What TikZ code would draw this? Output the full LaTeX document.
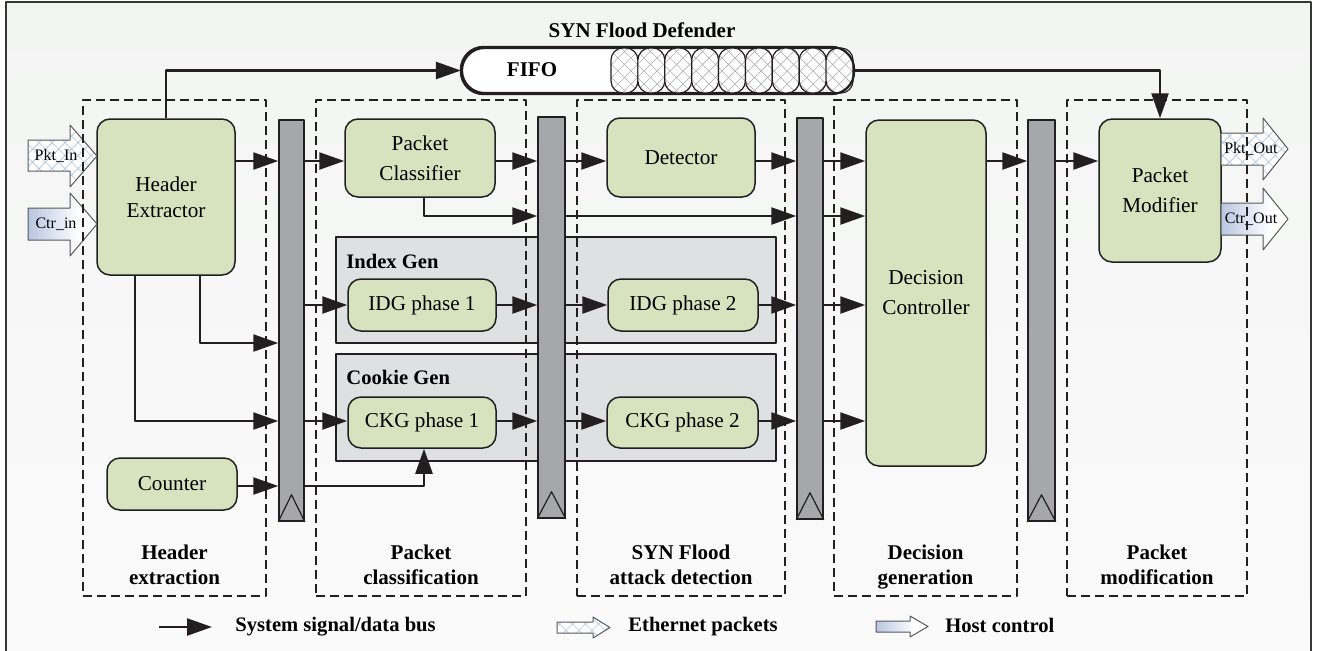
\documentclass[tikz,border=0pt]{standalone}
\usepackage{fontspec}
\setmainfont{Liberation Serif}
\usetikzlibrary{arrows.meta,patterns.meta,calc}

\definecolor{blockgreen}{RGB}{215,226,190}
\definecolor{busgray}{RGB}{166,167,171}
\definecolor{genfill}{RGB}{223,224,226}
\definecolor{inkdark}{RGB}{35,31,32}
\definecolor{pagetop}{RGB}{243,245,243}
\definecolor{pagebot}{RGB}{250,250,250}
\definecolor{framegray}{RGB}{55,55,55}
\definecolor{ctrblue}{RGB}{138,160,206}
\definecolor{hatchblue}{RGB}{170,195,228}
\definecolor{hatchgray}{RGB}{178,178,178}

\pgfdeclarehorizontalshading{hostshade}{100bp}{color(0bp)=(ctrblue); color(62bp)=(white); color(100bp)=(white)}

\begin{document}
\begin{tikzpicture}[x=0.5pt,y=-0.5pt,line join=round,
  block/.style={draw=inkdark, fill=blockgreen, rounded corners=6.5pt, line width=0.75pt,
                align=center, inner sep=0pt, font=\fontsize{10.6}{15}\selectfont},
  genbox/.style={draw=inkdark, fill=genfill, line width=1pt, inner sep=0pt, minimum width=220pt},
  genlabel/.style={font=\bfseries\fontsize{10.3}{12}\selectfont, inner sep=0pt, anchor=west},
  bus/.style={draw=inkdark, fill=busgray, line width=0.75pt, inner sep=0pt, minimum height=200.5pt},
  stagebox/.style={draw=inkdark, line width=1pt, dash pattern=on 4.5pt off 2.5pt,
                   inner sep=0pt, minimum height=248pt},
  stagelabel/.style={align=center, inner sep=0pt, font=\bfseries\fontsize{10.5}{12.5}\selectfont},
  arr/.style={draw=inkdark, line width=1.2pt, -{Triangle[length=12.5pt,width=8.5pt]}},
  fatarrow/.style={draw=black!65, line width=0.5pt},
  hatched/.style={preaction={fill=white}, pattern={Hatch[angle=45,distance=4.6pt,line width=0.3pt]}},
  hostctl/.style={shading=hostshade},
  iolabel/.style={inner sep=0pt, font=\fontsize{8}{9}\selectfont},
  legendtext/.style={anchor=west, inner sep=0pt, font=\bfseries\fontsize{10.3}{12}\selectfont}]

\useasboundingbox (0,0) rectangle (1318,650);

% page and frame
\shade[top color=pagetop, bottom color=pagebot] (6,2) rectangle (1311,662);
\draw[framegray, line width=1.4pt] (6,2) rectangle (1311,662);

% generator groups
\node[genbox, minimum height=53pt] (IXG) at (556,290) {};
\node[genbox, minimum height=53.5pt] (CKG) at (556,407.5) {};
\node[genlabel] (IXGt) at (346,261) {Index Gen};
\node[genlabel] (CKGt) at (346,377) {Cookie Gen};

% pipeline registers
\node[bus, minimum width=12.5pt] (bus1) at (291.5,320.5) {};
\node[bus, minimum width=13.5pt] (bus2) at (551.5,317.5) {};
\node[bus, minimum width=13pt]   (bus3) at (810,318.5) {};
\node[bus, minimum width=13.5pt] (bus4) at (1041.5,320.5) {};
\foreach \b in {bus1,bus2,bus3,bus4}
  \draw[inkdark, line width=0.6pt] (\b.south west) -- ($(\b.south)+(0,-27)$) -- (\b.south east);

% functional blocks
\node[block, minimum width=69pt, minimum height=78pt, font=\fontsize{10.6}{13}\selectfont] (HE) at (166,197) {Header\\Extractor};
\node[block, minimum width=75pt, minimum height=39pt] (PC) at (420,158) {Packet\\Classifier};
\node[block, minimum width=74pt, minimum height=39.5pt] (DET) at (681,157.5) {Detector};
\node[block, minimum width=60pt, minimum height=173pt] (DC) at (926,293) {Decision\\Controller};
\node[block, minimum width=61pt, minimum height=71.5pt] (PM) at (1160,190.5) {Packet\\Modifier};
\node[block, minimum width=74pt, minimum height=26pt] (IDG1) at (422,305) {IDG phase 1};
\node[block, minimum width=75pt, minimum height=26pt] (IDG2) at (683,305) {IDG phase 2};
\node[block, minimum width=74pt, minimum height=25.5pt] (CKG1) at (422,422.5) {CKG phase 1};
\node[block, minimum width=75.5pt, minimum height=25.5pt] (CKG2) at (682.5,422.5) {CKG phase 2};
\node[block, minimum width=65pt, minimum height=26pt] (CNT) at (172,484) {Counter};

% FIFO
\node[draw=inkdark, fill=white, line width=1.1pt, rounded corners=11.25pt, inner sep=0pt,
      minimum width=195.5pt, minimum height=22.5pt] (FIFO) at (657.5,70.5) {};
\foreach \i in {0,...,8}
  \path[hatched, pattern color=hatchgray, draw=inkdark, line width=0.6pt, rounded corners=6pt]
    ({611+26.89*\i},48) rectangle ({611+26.89*(\i+1)},93);
\draw[inkdark, line width=1.1pt, rounded corners=11.25pt] (FIFO.south west) rectangle (FIFO.north east);
\node[font=\bfseries\fontsize{10.5}{12}\selectfont, inner sep=0pt] (FIFOt) at (532,70) {FIFO};
\node[font=\bfseries\fontsize{10.5}{12}\selectfont, inner sep=0pt] (title) at (642,30) {SYN Flood Defender};

% external ports
\path[fatarrow, hatched, pattern color=hatchblue]
  (28,140) -- (70,140) -- (70,125) -- (97,156) -- (70,187) -- (70,171) -- (28,171) -- cycle;
\path[fatarrow, hostctl]
  (28,208) -- (70,208) -- (70,193) -- (97,224) -- (70,256) -- (70,240) -- (28,240) -- cycle;
\path[fatarrow, hatched, pattern color=hatchblue]
  (1221,133) -- (1263,133) -- (1263,118) -- (1288,149) -- (1263,180) -- (1263,165) -- (1221,165) -- cycle;
\path[fatarrow, hostctl]
  (1221,203) -- (1263,203) -- (1263,188) -- (1288,219) -- (1263,250) -- (1263,235) -- (1221,235) -- cycle;
\node[iolabel] (pktin)  at (56,156)   {Pkt\_In};
\node[iolabel] (ctrin)  at (56,224)   {Ctr\_in};
\node[iolabel] (pktout) at (1251,149) {Pkt\_Out};
\node[iolabel] (ctrout) at (1251,219) {Ctr\_Out};

% row levels
\coordinate (r1) at (0,161);
\coordinate (r2) at (0,216);
\coordinate (r4) at (0,421);
\coordinate (r5) at (0,343);
\coordinate (r6) at (0,486);

% main data path
\draw[arr] (HE.east |- r1) -- (bus1.west |- r1);
\draw[arr] (bus1.east |- r1) -- (PC.west |- r1);
\draw[arr] (PC.east |- r1) -- (bus2.west |- r1);
\draw[arr] (bus2.east |- r1) -- (DET.west |- r1);
\draw[arr] (DET.east |- r1) -- (bus3.west |- r1);
\draw[arr] (bus3.east |- r1) -- (DC.west |- r1);
\draw[arr] (DC.east |- r1) -- (bus4.west |- r1);
\draw[arr] (bus4.east |- r1) -- (PM.west |- r1);

% classifier bypass
\draw[arr] ($(PC.south)+(4,0)$) |- (bus2.west |- r2);
\draw[arr] (bus2.east |- r2) -- (bus3.west |- r2);
\draw[arr] (bus3.east |- r2) -- (DC.west |- r2);

% packet FIFO
\draw[arr] (HE.north) |- (FIFO.west);
\draw[arr] (FIFO.east) -| (PM.north);

% header fields to the generators
\draw[arr] ($(HE.south)+(34,0)$) |- (bus1.west |- r5);
\draw[arr] ($(HE.south)+(-31,0)$) |- (bus1.west |- r4);

% index generation
\draw[arr] (bus1.east |- IDG1.west) -- (IDG1.west);
\draw[arr] (IDG1.east) -- (bus2.west |- IDG1.east);
\draw[arr] (bus2.east |- IDG2.west) -- (IDG2.west);
\draw[arr] (IDG2.east) -- (bus3.west |- IDG2.east);
\draw[arr] (bus3.east |- IDG2.east) -- (DC.west |- IDG2.east);

% cookie generation
\draw[arr] (bus1.east |- r4) -- (CKG1.west |- r4);
\draw[arr] (CKG1.east |- r4) -- (bus2.west |- r4);
\draw[arr] (bus2.east |- r4) -- (CKG2.west |- r4);
\draw[arr] (CKG2.east |- r4) -- (bus3.west |- r4);
\draw[arr] (bus3.east |- r4) -- (DC.west |- r4);

% counter
\draw[arr] (CNT.east |- r6) -- (bus1.west |- r6);
\draw[arr] (bus1.east |- r6) -| ($(CKG1.south)+(2,0)$);

% pipeline stages
\node[stagebox, minimum width=91.5pt] (st1) at (174.5,348) {};
\node[stagebox, minimum width=105pt]  (st2) at (421,348) {};
\node[stagebox, minimum width=104pt]  (st3) at (681,348) {};
\node[stagebox, minimum width=91.5pt] (st4) at (925.5,348) {};
\node[stagebox, minimum width=90pt]   (st5) at (1157,348) {};
\node[stagelabel] (st1t) at (174.5,565) {Header\\extraction};
\node[stagelabel] (st2t) at (421,565) {Packet\\classification};
\node[stagelabel] (st3t) at (681,565) {SYN Flood\\attack detection};
\node[stagelabel] (st4t) at (925.5,567) {Decision\\generation};
\node[stagelabel] (st5t) at (1157,565) {Packet\\modification};

% legend
\coordinate (lgA0) at (159,627);
\coordinate (lgA1) at (212,627);
\draw[arr] (lgA0) -- (lgA1);
\node[legendtext] (lgAt) at (235,627) {System signal/data bus};
\path[fatarrow, hatched, pattern color=hatchblue]
  (557,622) -- (593,622) -- (593,617) -- (610,627.5) -- (593,638) -- (593,633) -- (557,633) -- cycle;
\node[legendtext] (lgBt) at (628,627) {Ethernet packets};
\path[fatarrow, hostctl]
  (876,621) -- (910,621) -- (910,616) -- (928,626.5) -- (910,637) -- (910,632) -- (876,632) -- cycle;
\node[legendtext] (lgCt) at (945,625) {Host control};
\end{tikzpicture}
\end{document}
